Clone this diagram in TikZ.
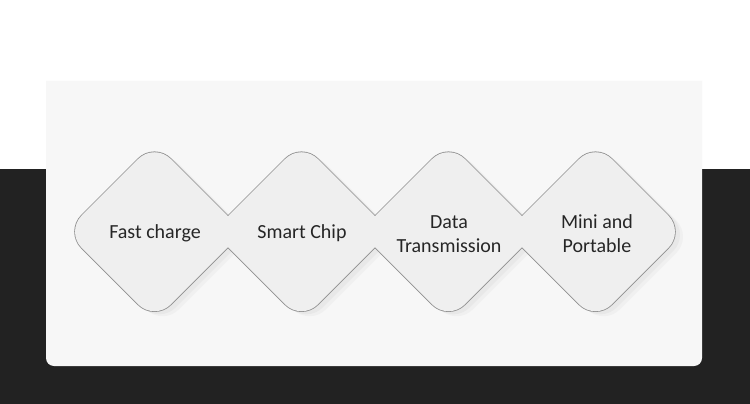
\documentclass[tikz,border=0pt]{standalone}
\usepackage{fontspec}
\setmainfont{Carlito}
\definecolor{darkband}{HTML}{222222}
\definecolor{panelbg}{HTML}{F7F7F7}
\definecolor{dfill}{HTML}{EFEFEF}
\definecolor{dline}{HTML}{8F8F8F}
\definecolor{dshadow}{HTML}{E8E8E8}
\definecolor{dshadowsoft}{HTML}{F0F0F0}
\definecolor{txt}{HTML}{262626}
\tikzset{
  label text/.style={text=txt, font=\fontsize{20}{24}\selectfont, align=center, inner sep=0pt},
}
\begin{document}
\begin{tikzpicture}[x=1pt,y=-1pt]
\useasboundingbox (0,0) rectangle (750,404);
\fill[white] (0,0) rectangle (750,404);
\fill[darkband] (0,169) rectangle (750,404);
\fill[panelbg, rounded corners=8pt] (46,200) -- (46,366) -- (702,366) -- (702,200) [sharp corners] -- (702,81) -- (46,81) -- cycle;
% soft outer shadows
\foreach \cx in {154.5,301.5,448.5,595.5}{
  \fill[dshadowsoft, rounded corners=23pt] ([xshift=8pt,yshift=-5pt]\cx-89,231.7) -- ([xshift=8pt,yshift=-5pt]\cx,231.7-89) -- ([xshift=8pt,yshift=-5pt]\cx+89,231.7) -- ([xshift=8pt,yshift=-5pt]\cx,231.7+89) -- cycle;
}
% shadows
\foreach \cx in {154.5,301.5,448.5,595.5}{
  \fill[dshadow, rounded corners=23pt] ([xshift=5pt,yshift=-3pt]\cx-89,231.7) -- ([xshift=5pt,yshift=-3pt]\cx,231.7-89) -- ([xshift=5pt,yshift=-3pt]\cx+89,231.7) -- ([xshift=5pt,yshift=-3pt]\cx,231.7+89) -- cycle;
}
% borders (doubled width, inner half covered later)
\foreach \cx in {154.5,301.5,448.5,595.5}{
  \draw[dline, line width=1.6pt, rounded corners=23pt] (\cx-89,231.7) -- (\cx,231.7-89) -- (\cx+89,231.7) -- (\cx,231.7+89) -- cycle;
}
% fills
\foreach \cx in {154.5,301.5,448.5,595.5}{
  \fill[dfill, rounded corners=23pt] (\cx-89,231.7) -- (\cx,231.7-89) -- (\cx+89,231.7) -- (\cx,231.7+89) -- cycle;
}
\node[label text] (t1) at (155,233) {Fast charge};
\node[label text] (t2) at (302,233) {Smart Chip};
\node[label text] (t3) at (449,234) {Data\\Transmission};
\node[label text] (t4) at (597,234) {Mini and\\Portable};
\end{tikzpicture}
\end{document}
